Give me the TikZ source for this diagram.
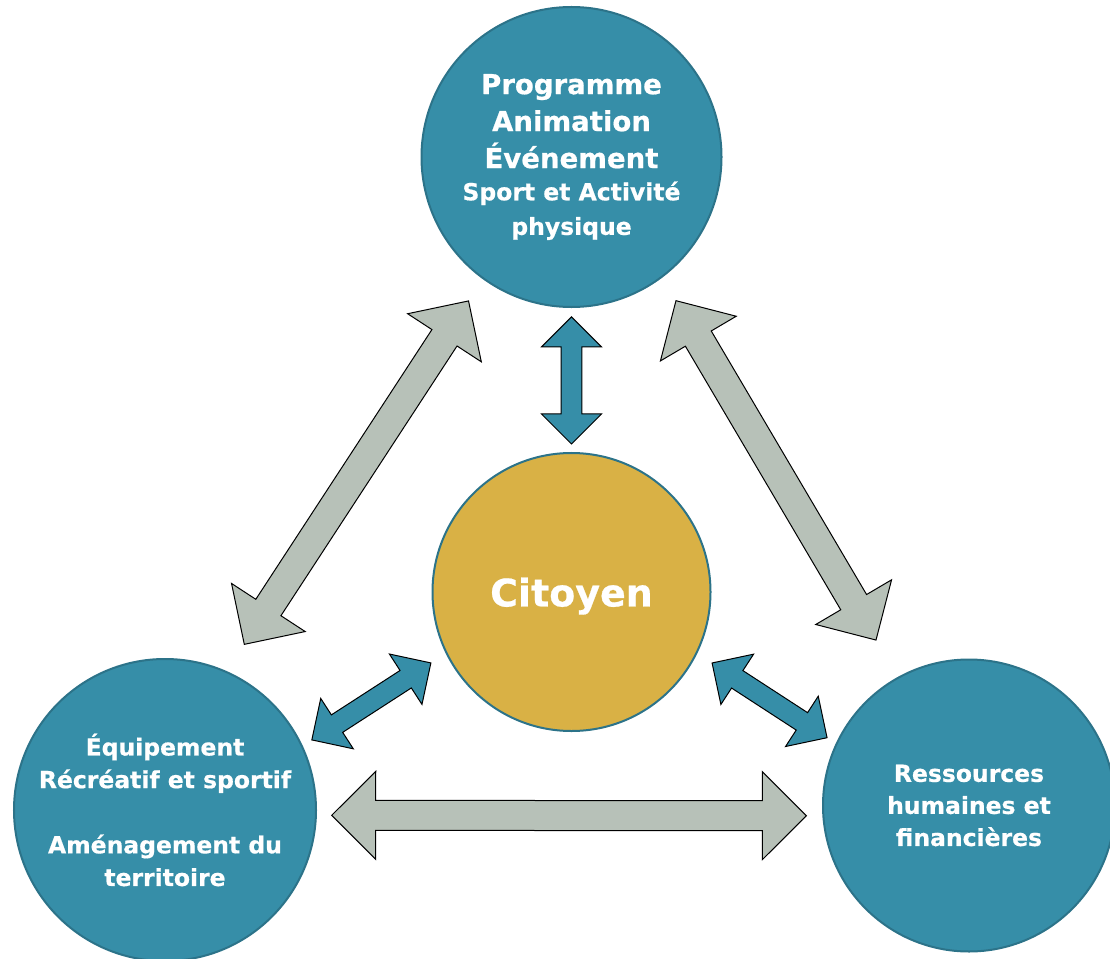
\documentclass[tikz,border=0pt]{standalone}
\usepackage{fontspec}
\setmainfont{DejaVu Sans}[BoldFeatures={FakeBold=0.6}]
\usetikzlibrary{calc}

\definecolor{petrol}{HTML}{368EA8}
\definecolor{petrolline}{HTML}{2C7389}
\definecolor{gold}{HTML}{D9B145}
\definecolor{sage}{HTML}{B7C1B8}

\tikzset{
  pole/.style={circle, draw=petrolline, line width=0.5mm, fill=petrol,
    text=white, align=center, inner sep=0pt},
  big/.style={font=\bfseries\fontsize{19.6}{26.3}\selectfont},
  small/.style={font=\bfseries\fontsize{16.7}{23.2}\selectfont}
}
\newcommand{\smalltext}{\fontsize{16.7}{20.6}\selectfont}

% double block arrow: fill, from, to, gap at from, gap at to, head, half shaft
\newcommand{\twoway}[7]{
  \coordinate (p) at ($(#2)!#4!(#3)$);
  \coordinate (q) at ($(#3)!#5!(#2)$);
  \draw[fill=#1, line width=0.25mm, line join=miter]
    (p) -- ($(p)!#6!(q)!#6!90:(q)$) -- ($(p)!#6!(q)!#7!90:(q)$)
    -- ($(q)!#6!(p)!#7!-90:(p)$) -- ($(q)!#6!(p)!#6!-90:(p)$)
    -- (q) -- ($(q)!#6!(p)!#6!90:(p)$) -- ($(q)!#6!(p)!#7!90:(p)$)
    -- ($(p)!#6!(q)!#7!-90:(q)$) -- ($(p)!#6!(q)!#6!-90:(q)$) -- cycle;
}

\begin{document}
\begin{tikzpicture}[x=0.25mm, y=-0.25mm]
  \useasboundingbox (0,0) rectangle (1110,959);

  \node[pole, big, minimum size=75mm] (prog) at (571.5,157)
    {Programme\\Animation\\Événement\\[-1.2mm]
     \smalltext Sport et Activité\\[-0.6mm]\smalltext physique};
  \node[pole, fill=gold, minimum size=69.5mm, text depth=0pt,
    font=\bfseries\fontsize{27}{30}\selectfont] (cit) at (571.5,592) {Citoyen};
  \node[pole, small, minimum size=75.5mm] (equip) at (165,810)
    {Équipement\\Récréatif et sportif\\[23.2pt]Aménagement du\\territoire};
  \node[pole, small, font=\bfseries\fontsize{16.7}{22.8}\selectfont,
    minimum size=73mm] (res) at (969,805.5)
    {Ressources\\humaines et\\financières};

  \foreach \c/\a/\b/\ga/\gb/\h/\w in {
    sage/prog.234/equip.66/6.5mm/8mm/11mm/3.75mm,
    sage/prog.307/res.119/6.7mm/10.7mm/11mm/3.75mm,
    sage/equip.358/res.184/3.7mm/4mm/11mm/3.75mm,
    petrol/prog.south/cit.north/2.2mm/2mm/7.5mm/2.6mm,
    petrol/cit.206/equip.25/4.4mm/2.7mm/7.5mm/2.6mm,
    petrol/cit.334/res.155/4.4mm/2.6mm/7.5mm/2.6mm} {
    \twoway{\c}{\a}{\b}{\ga}{\gb}{\h}{\w}
  }
\end{tikzpicture}
\end{document}
